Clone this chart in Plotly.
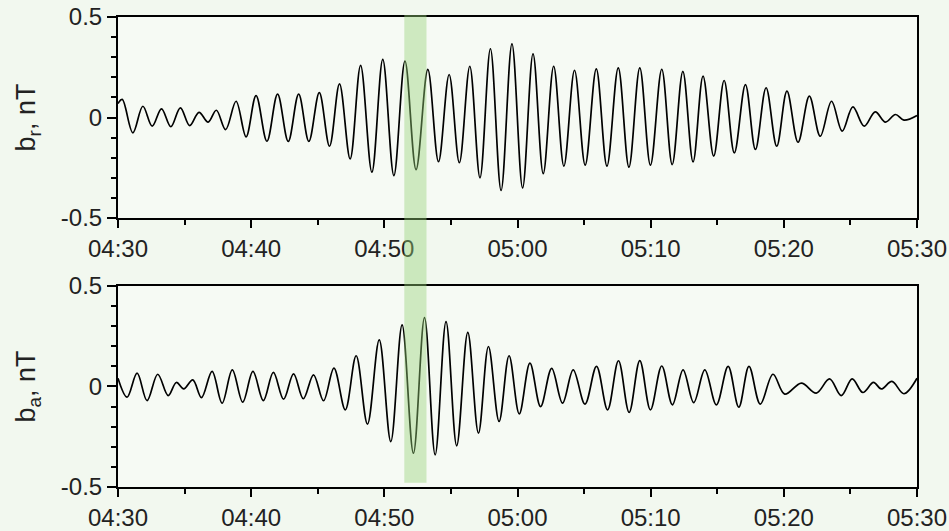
import pandas as pd
import plotly.graph_objects as go

# ---- data: extrema (seconds after 04:30, nT) ----
br_sec = [0, 19, 67, 112, 154, 196, 238, 281, 323, 365, 406, 443, 485, 532, 577, 622, 671,
          719, 767, 814, 860, 907, 953, 998, 1046, 1093, 1144, 1193, 1243, 1293, 1343,
          1396, 1444, 1492, 1538, 1585, 1631, 1678, 1726, 1775, 1823, 1870, 1916, 1963,
          2009, 2057, 2105, 2155, 2203, 2254, 2302, 2351, 2399, 2450, 2497, 2545, 2591,
          2636, 2684, 2731, 2777, 2827, 2872, 2920, 2968, 3014, 3064, 3115, 3164, 3215,
          3263, 3311, 3362, 3412, 3458, 3503, 3541, 3600]
br_val = [0.07, 0.09, -0.076, 0.056, -0.043, 0.043, -0.046, 0.048, -0.040, 0.026, -0.023,
          0.036, -0.060, 0.081, -0.096, 0.109, -0.118, 0.116, -0.119, 0.116, -0.119, 0.124,
          -0.143, 0.167, -0.206, 0.259, -0.272, 0.289, -0.289, 0.280, -0.259, 0.239, -0.220,
          0.214, -0.225, 0.255, -0.300, 0.342, -0.363, 0.366, -0.350, 0.317, -0.279, 0.255,
          -0.242, 0.235, -0.237, 0.242, -0.242, 0.247, -0.247, 0.247, -0.237, 0.240, -0.234,
          0.230, -0.221, 0.206, -0.192, 0.184, -0.176, 0.164, -0.159, 0.148, -0.143, 0.131,
          -0.123, 0.106, -0.093, 0.081, -0.068, 0.053, -0.043, 0.028, -0.023, 0.015, -0.013,
          0.010]

ba_sec = [0, 41, 86, 131, 179, 226, 263, 296, 337, 376, 424, 469, 515, 562, 608, 655, 700,
          746, 791, 835, 881, 926, 973, 1024, 1073, 1124, 1177, 1229, 1280, 1331, 1381,
          1429, 1478, 1526, 1576, 1624, 1669, 1717, 1762, 1808, 1856, 1904, 1954, 2003,
          2051, 2104, 2156, 2206, 2255, 2303, 2351, 2399, 2450, 2498, 2546, 2594, 2644,
          2696, 2749, 2797, 2843, 2894, 2951, 3004, 3079, 3146, 3206, 3259, 3308, 3356,
          3404, 3439, 3487, 3541, 3600]
ba_val = [0.041, -0.053, 0.066, -0.070, 0.061, -0.045, 0.020, -0.012, 0.033, -0.055, 0.075,
          -0.083, 0.083, -0.078, 0.075, -0.070, 0.070, -0.063, 0.063, -0.061, 0.058, -0.071,
          0.091, -0.116, 0.153, -0.187, 0.232, -0.274, 0.307, -0.332, 0.343, -0.340, 0.323,
          -0.295, 0.269, -0.232, 0.199, -0.174, 0.153, -0.136, 0.116, -0.100, 0.090, -0.083,
          0.083, -0.088, 0.100, -0.116, 0.128, -0.129, 0.129, -0.116, 0.102, -0.091, 0.083,
          -0.080, 0.083, -0.091, 0.100, -0.103, 0.100, -0.088, 0.061, -0.038, 0.017, -0.033,
          0.038, -0.045, 0.038, -0.030, 0.020, -0.012, 0.025, -0.036, 0.041]

t_start = "2000-01-01 04:30:00"
t_end = "2000-01-01 05:30:00"
band_start = "2000-01-01 04:51:30"
band_end = "2000-01-01 04:53:10"

y_tickvals = [-0.5, 0, 0.5]
y_ticktext = ["-0.5", "0", "0.5"]

t0 = pd.Timestamp(t_start)
br_t = t0 + pd.to_timedelta(br_sec, unit="s")
ba_t = t0 + pd.to_timedelta(ba_sec, unit="s")

FONT = "Liberation Sans, Arial, sans-serif"
TXT = "#222222"

fig = go.Figure()
fig.add_trace(go.Scatter(x=br_t, y=br_val, mode="lines", xaxis="x", yaxis="y",
                         line=dict(color="black", width=1.7, shape="spline", smoothing=1.0),
                         showlegend=False, hoverinfo="skip"))
fig.add_trace(go.Scatter(x=ba_t, y=ba_val, mode="lines", xaxis="x2", yaxis="y2",
                         line=dict(color="black", width=1.7, shape="spline", smoothing=1.0),
                         showlegend=False, hoverinfo="skip"))

xcommon = dict(type="date", range=[t_start, t_end], dtick=600000, tick0=t_start,
               tickformat="%H:%M", ticks="outside", ticklen=8, tickwidth=2,
               tickcolor="black", showline=True, linecolor="black", linewidth=2,
               mirror=True, showgrid=False, zeroline=False, automargin=False,
               tickfont=dict(family=FONT, size=24, color=TXT),
               minor=dict(dtick=300000, tick0=t_start, ticks="outside", ticklen=5,
                          tickwidth=2, tickcolor="black", showgrid=False))
ycommon = dict(range=[-0.5, 0.5], tickvals=y_tickvals, ticktext=y_ticktext,
               ticks="outside", ticklen=9, tickwidth=2, tickcolor="black",
               showline=True, linecolor="black", linewidth=2, mirror=True,
               showgrid=False, zeroline=False, automargin=False,
               tickfont=dict(family=FONT, size=24, color=TXT),
               minor=dict(dtick=0.1, tick0=0, ticks="outside", ticklen=5, tickwidth=2,
                          tickcolor="black", showgrid=False))

fig.update_layout(
    template="none",
    width=949, height=531,
    margin=dict(l=118, r=32, t=17, b=44, autoexpand=False),
    paper_bgcolor="#f2f8ef",
    plot_bgcolor="#f6faf4",
    font=dict(family=FONT, color=TXT),
    xaxis=dict(domain=[0, 1], anchor="y", **xcommon),
    yaxis=dict(domain=[0.5723, 1], anchor="x",
               title=dict(text="b<sub>r</sub>, nT", standoff=17,
                          font=dict(family=FONT, size=27, color=TXT)),
               **ycommon),
    xaxis2=dict(domain=[0, 1], anchor="y2", **xcommon),
    yaxis2=dict(domain=[0, 0.4277], anchor="x2",
                title=dict(text="b<sub>a</sub>, nT", standoff=17,
                           font=dict(family=FONT, size=27, color=TXT)),
                **ycommon),
    shapes=[dict(type="rect", xref="x", yref="paper", x0=band_start, x1=band_end,
                 y0=0.009, y1=1.004, fillcolor="rgba(150,210,120,0.42)",
                 line=dict(width=0), layer="above")],
)

fig.write_html("out.html",
               config={"displayModeBar": False, "staticPlot": True},
               post_script="document.body.style.margin='0';document.body.style.background='#f2f8ef';")
